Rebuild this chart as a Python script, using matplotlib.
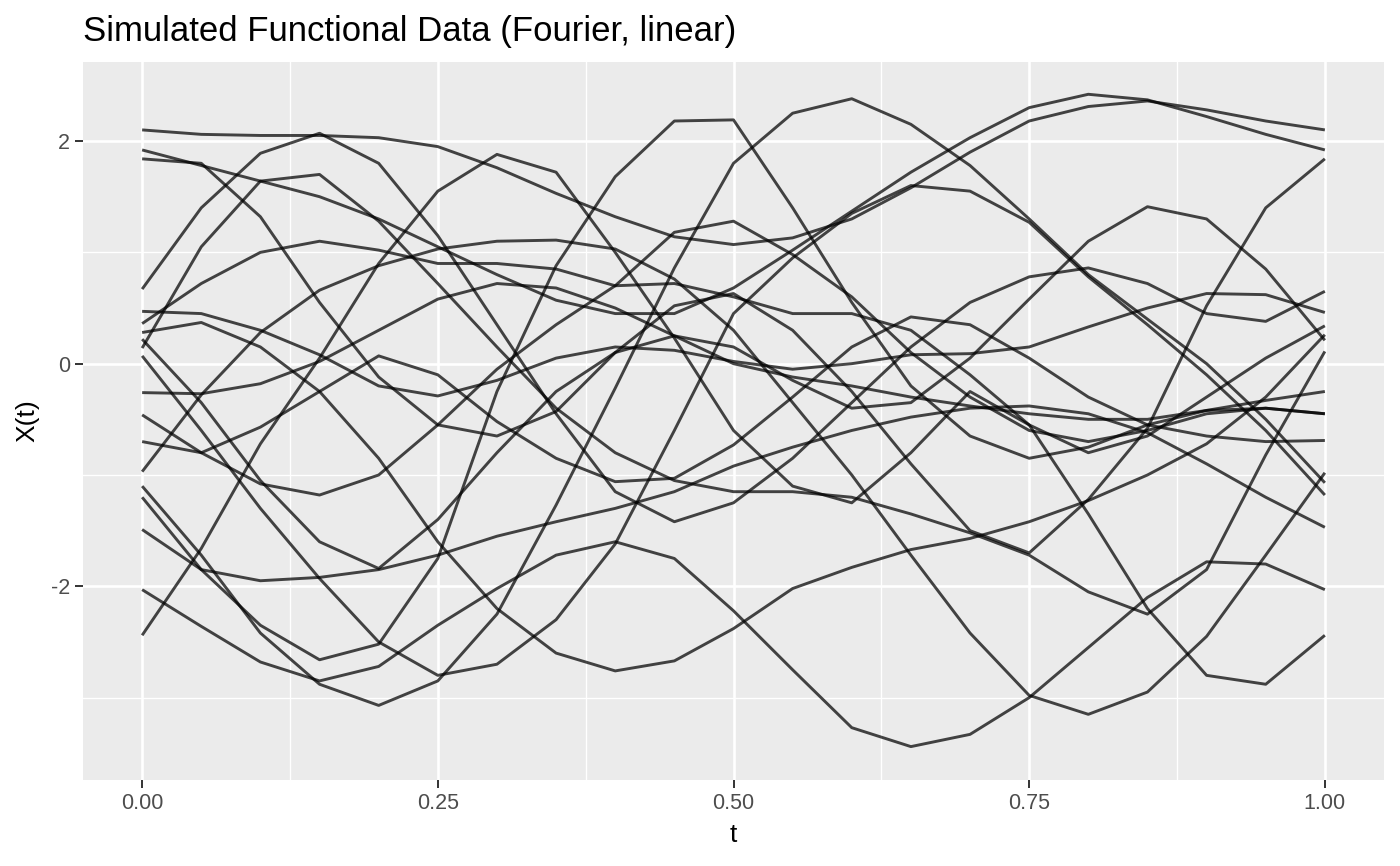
import numpy as np
import matplotlib
matplotlib.use("Agg")
import matplotlib.pyplot as plt

t = [0.00, 0.05, 0.10, 0.15, 0.20, 0.25, 0.30, 0.35, 0.40, 0.45, 0.50,
     0.55, 0.60, 0.65, 0.70, 0.75, 0.80, 0.85, 0.90, 0.95, 1.00]

curve_01 = [2.10, 2.06, 2.05, 2.05, 2.03, 1.95, 1.76, 1.53, 1.32, 1.14, 1.07,
            1.13, 1.30, 1.58, 1.90, 2.18, 2.31, 2.36, 2.28, 2.18, 2.10]
curve_02 = [1.92, 1.78, 1.64, 1.50, 1.30, 1.05, 0.80, 0.57, 0.45, 0.45, 0.68,
            1.02, 1.37, 1.72, 2.03, 2.30, 2.42, 2.37, 2.22, 2.06, 1.92]
curve_03 = [1.84, 1.80, 1.32, 0.55, -0.12, -0.55, -0.65, -0.43, 0.10, 0.52, 0.63,
            0.30, -0.25, -0.90, -1.50, -1.70, -1.22, -0.58, 0.52, 1.40, 1.84]
curve_04 = [0.67, 1.40, 1.89, 2.07, 1.80, 1.15, 0.35, -0.45, -1.15, -1.42, -1.25,
            -0.85, -0.35, 0.15, 0.55, 0.78, 0.86, 0.72, 0.45, 0.38, 0.65]
curve_05 = [0.47, 0.45, 0.30, 0.08, -0.20, -0.29, -0.15, 0.05, 0.15, 0.12, 0.02,
            -0.05, 0.00, 0.08, 0.09, 0.15, 0.33, 0.50, 0.63, 0.62, 0.46]
curve_06 = [0.36, 0.72, 1.00, 1.10, 1.02, 0.90, 0.90, 0.85, 0.70, 0.72, 0.60,
            0.45, 0.45, 0.30, -0.10, -0.55, -0.80, -0.65, -0.30, 0.05, 0.34]
curve_07 = [0.28, 0.37, 0.15, -0.25, -0.85, -1.60, -2.20, -2.60, -2.76, -2.67, -2.38,
            -2.02, -1.83, -1.67, -1.57, -1.42, -1.23, -1.00, -0.72, -0.30, 0.26]
curve_08 = [0.22, -0.35, -1.05, -1.60, -1.84, -1.40, -0.80, -0.25, 0.10, 0.25, 0.15,
            -0.15, -0.40, -0.35, 0.05, 0.58, 1.10, 1.41, 1.30, 0.85, 0.21]
curve_09 = [0.14, 1.05, 1.64, 1.70, 1.28, 0.72, 0.15, -0.40, -0.80, -1.05, -1.15,
            -1.15, -1.20, -1.35, -1.52, -1.72, -2.05, -2.25, -1.85, -0.82, 0.11]
curve_10 = [0.07, -0.60, -1.30, -1.93, -2.50, -2.80, -2.70, -2.30, -1.62, -0.60, 0.45,
            0.95, 1.35, 1.60, 1.55, 1.27, 0.78, 0.35, -0.10, -0.60, -1.18]
curve_11 = [-0.26, -0.27, -0.18, 0.02, 0.30, 0.58, 0.72, 0.68, 0.50, 0.25, 0.00,
            -0.12, -0.20, -0.30, -0.38, -0.45, -0.50, -0.50, -0.42, -0.33, -0.25]
curve_12 = [-0.46, -0.80, -1.08, -1.18, -1.00, -0.55, -0.05, 0.35, 0.70, 1.18, 1.28,
            0.98, 0.60, 0.10, -0.30, -0.60, -0.70, -0.60, -0.45, -0.40, -0.45]
curve_13 = [-0.70, -0.80, -0.57, -0.25, 0.07, -0.10, -0.52, -0.85, -1.06, -1.03, -0.73,
            -0.30, 0.15, 0.42, 0.35, 0.05, -0.30, -0.55, -0.65, -0.70, -0.69]
curve_14 = [-0.97, -0.28, 0.28, 0.66, 0.88, 1.03, 1.10, 1.11, 1.03, 0.76, 0.30,
            -0.35, -1.00, -1.72, -2.42, -2.98, -3.15, -2.95, -2.45, -1.72, -0.98]
curve_15 = [-1.10, -1.72, -2.42, -2.88, -3.07, -2.85, -2.25, -1.27, -0.22, 0.86, 1.80,
            2.25, 2.38, 2.15, 1.78, 1.30, 0.80, 0.40, 0.00, -0.50, -1.07]
curve_16 = [-1.20, -1.85, -2.35, -2.66, -2.52, -1.75, -0.25, 0.88, 1.68, 2.18, 2.19,
            1.40, 0.55, -0.20, -0.65, -0.85, -0.75, -0.55, -0.42, -0.40, -0.45]
curve_17 = [-1.49, -1.85, -1.95, -1.92, -1.85, -1.72, -1.55, -1.42, -1.30, -1.15, -0.92,
            -0.75, -0.60, -0.48, -0.40, -0.38, -0.45, -0.62, -0.90, -1.20, -1.47]
curve_18 = [-2.03, -2.36, -2.68, -2.85, -2.72, -2.35, -2.02, -1.72, -1.60, -1.75, -2.22,
            -2.75, -3.27, -3.44, -3.33, -3.00, -2.55, -2.10, -1.78, -1.80, -2.03]
curve_19 = [-2.44, -1.66, -0.72, 0.05, 0.90, 1.55, 1.88, 1.72, 1.00, 0.23, -0.60,
            -1.10, -1.25, -0.80, -0.25, -0.55, -1.35, -2.20, -2.80, -2.88, -2.44]

curves = [curve_01, curve_02, curve_03, curve_04, curve_05, curve_06, curve_07,
          curve_08, curve_09, curve_10, curve_11, curve_12, curve_13, curve_14,
          curve_15, curve_16, curve_17, curve_18, curve_19]

title = "Simulated Functional Data (Fourier, linear)"
x_ticks = [0.0, 0.25, 0.5, 0.75, 1.0]
x_ticklabels = ["0.00", "0.25", "0.50", "0.75", "1.00"]
y_ticks = [-2, 0, 2]
y_ticklabels = ["-2", "0", "2"]

plt.rcParams['font.family'] = ['Liberation Sans', 'DejaVu Sans']
fig = plt.figure(figsize=(14, 8.66), dpi=100)
ax = fig.add_axes([83/1400, 1-780/866, (1384-83)/1400, (780-62)/866])
ax.set_facecolor('#EBEBEB')
for s in ax.spines.values():
    s.set_visible(False)

ax.set_xlim(-0.05, 1.05)
ax.set_ylim(-3.74, 2.71)
ax.set_xticks(x_ticks)
ax.set_xticklabels(x_ticklabels)
ax.set_yticks(y_ticks)
ax.set_yticklabels(y_ticklabels)
ax.set_xticks([0.125, 0.375, 0.625, 0.875], minor=True)
ax.set_yticks([-3, -1, 1], minor=True)
ax.grid(which='major', color='white', linewidth=1.9)
ax.grid(which='minor', color='white', linewidth=0.95)
ax.set_axisbelow(True)
ax.tick_params(which='major', length=5.5, width=1.4, color='#333333',
               labelsize=15.5, labelcolor='#4D4D4D', pad=4)
ax.tick_params(which='minor', length=0)

for c in curves:
    ax.plot(t, c, color='black', alpha=0.72, linewidth=2.1,
            solid_joinstyle='round', solid_capstyle='butt')

ax.set_xlabel('t', fontsize=19, labelpad=6)
ax.set_ylabel('X(t)', fontsize=19, labelpad=8)
fig.text(83/1400, 1-31/866, title, fontsize=25, ha='left', va='center')

fig.savefig('out.png', dpi=100)
